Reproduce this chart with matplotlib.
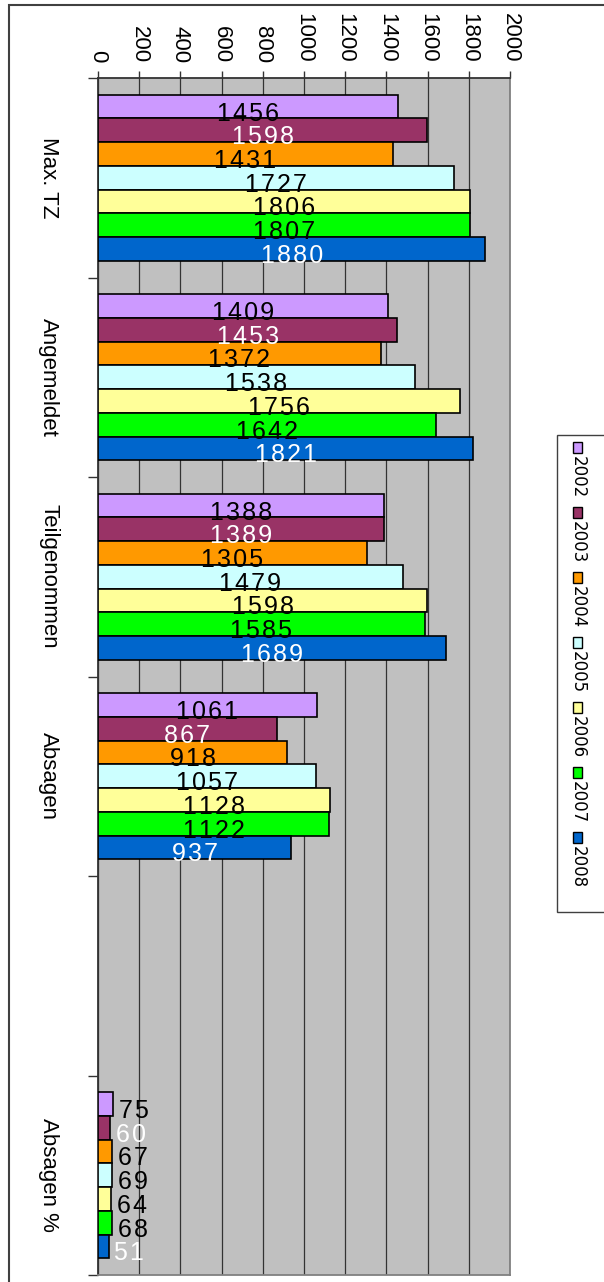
import matplotlib
matplotlib.use("Agg")
import matplotlib.pyplot as plt
from matplotlib import font_manager
from matplotlib.patches import Rectangle
import numpy as np

categories = ["Max. TZ", "Angemeldet", "Teilgenommen", "Absagen", "", "Absagen %"]
years = ["2002", "2003", "2004", "2005", "2006", "2007", "2008"]
colors = ["#CC99FF", "#993366", "#FF9900", "#CCFFFF", "#FFFF99", "#00FF00", "#0066CC"]
label_colors = ["black", "white", "black", "black", "black", "black", "white"]

# one list per year, in the order of categories (empty slot = None)
v2002 = [1456, 1409, 1388, 1061, None, 75]
v2003 = [1598, 1453, 1389, 867, None, 60]
v2004 = [1431, 1372, 1305, 918, None, 67]
v2005 = [1727, 1538, 1479, 1057, None, 69]
v2006 = [1806, 1756, 1598, 1128, None, 64]
v2007 = [1807, 1642, 1585, 1122, None, 68]
v2008 = [1880, 1821, 1689, 937, None, 51]
series = [v2002, v2003, v2004, v2005, v2006, v2007, v2008]

xticks = list(range(0, 2001, 200))

names = {f.name for f in font_manager.fontManager.ttflist}
narrow = "Liberation Sans Narrow" if "Liberation Sans Narrow" in names else "Liberation Sans"
fam = [narrow, "DejaVu Sans"]

W, H = 604, 1282
fig = plt.figure(figsize=(W / 100, H / 100), dpi=100)
ax = fig.add_axes([98 / W, 1 - 1275 / H, (510 - 98) / W, (1275 - 78) / H])
ax.set_facecolor("#C0C0C0")

group_w = 0.833
bar_h = group_w / len(years)
pos = np.arange(len(categories))

for j, (vals, c) in enumerate(zip(series, colors)):
    yy = pos - group_w / 2 + bar_h * (j + 0.5)
    for i, v in enumerate(vals):
        if v is None:
            continue
        ax.barh(yy[i], v, height=bar_h, color=c, edgecolor="black", linewidth=1.2, zorder=3)
        txt = "\u200a".join(str(v))
        if categories[i] == "Absagen %":
            ax.text(v + 28, yy[i] + 0.035, txt, ha="left", va="center",
                    fontsize=18, family=fam, color=label_colors[j], zorder=4)
        else:
            ax.text(v / 2, yy[i] + 0.035, txt, ha="center", va="center",
                    fontsize=18, family=fam, color=label_colors[j], zorder=4)

ax.set_xlim(0, 2000)
ax.set_ylim(len(categories) - 0.5, -0.5)

ax.xaxis.tick_top()
ax.set_xticks(xticks)
ax.set_xticklabels([str(t) for t in xticks], rotation=-90, fontsize=16, family=narrow)
ax.tick_params(axis="x", direction="out", length=5, width=1, color="#333333", pad=6)
ax.grid(axis="x", color="#333333", linewidth=0.9, zorder=1)

ax.set_yticks(pos)
ax.set_yticklabels(categories, rotation=-90, fontsize=16, family=narrow, va="center")
ax.tick_params(axis="y", which="major", length=0, pad=28)
ax.set_yticks(np.arange(-0.5, len(categories)), minor=True)
ax.tick_params(axis="y", which="minor", length=7.5, width=1, color="#333333")

for s in ["left", "top"]:
    ax.spines[s].set_color("#333333")
    ax.spines[s].set_linewidth(1.3)
for s in ["right", "bottom"]:
    ax.spines[s].set_color("#808080")
    ax.spines[s].set_linewidth(1.3)

# outer frame (cropped on the right and bottom)
fig.patches.append(Rectangle((9 / W, -0.1), 1.2, 1.1 - 5 / H, transform=fig.transFigure,
                             fill=False, edgecolor="#404040", linewidth=1.5))

# legend, drawn rotated like the rest of the chart
fig.patches.append(Rectangle((557 / W, 1 - 912 / H), 50 / W, (912 - 435) / H,
                             transform=fig.transFigure, facecolor="white",
                             edgecolor="#404040", linewidth=1.0))
for j, (yr, c) in enumerate(zip(years, colors)):
    top = 442 + 65 * j
    fig.patches.append(Rectangle((573 / W, 1 - (top + 11) / H), 9 / W, 11 / H,
                                 transform=fig.transFigure, facecolor=c,
                                 edgecolor="black", linewidth=1.0))
    fig.text(578 / W, 1 - (top + 14) / H, yr, rotation=-90, ha="center", va="top",
             fontsize=12, family="DejaVu Sans")

fig.savefig("out.png", dpi=100)
